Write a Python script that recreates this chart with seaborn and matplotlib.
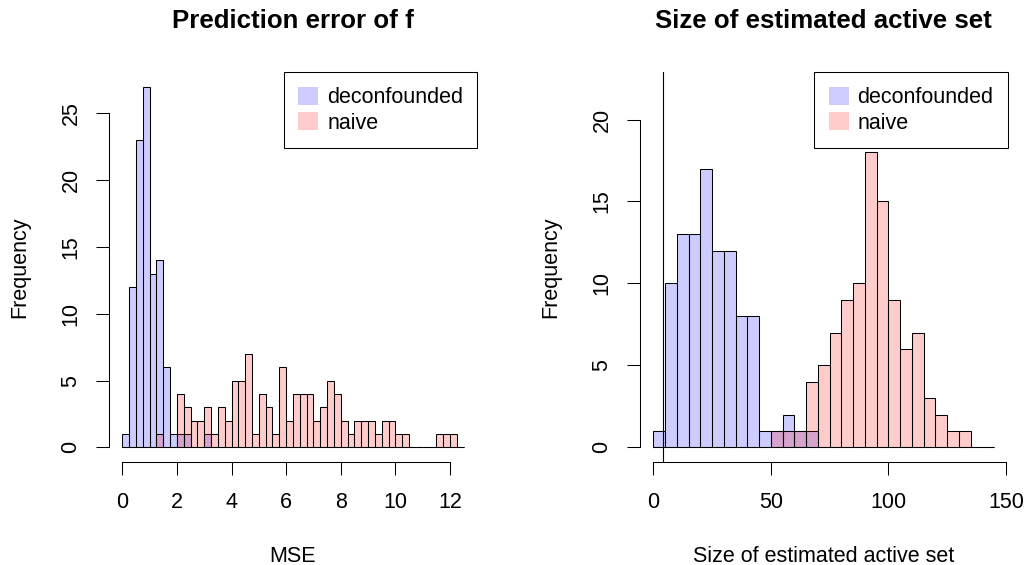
import numpy as np
import pandas as pd
import matplotlib
matplotlib.use("Agg")
import matplotlib.pyplot as plt
from matplotlib.patches import Patch
import seaborn as sns

# ---------------- data ----------------
series_labels = ["deconfounded", "naive"]

# Prediction error (MSE): bins of width 0.25 from 0 to 12.5
mse_break_start, mse_break_stop, mse_break_step = 0.0, 12.5, 0.25
mse_deconfounded = [1, 12, 23, 27, 13, 14, 6, 1, 1, 1,
                    0, 0, 1, 0, 0, 0, 0, 0, 0, 0,
                    0, 0, 0, 0, 0, 0, 0, 0, 0, 0,
                    0, 0, 0, 0, 0, 0, 0, 0, 0, 0,
                    0, 0, 0, 0, 0, 0, 0, 0, 0, 0]
mse_naive = [0, 0, 0, 0, 0, 1, 0, 0, 4, 3,
             2, 2, 3, 1, 3, 2, 5, 5, 7, 1,
             4, 3, 1, 6, 2, 4, 4, 4, 2, 3,
             5, 4, 2, 1, 2, 2, 2, 1, 2, 2,
             1, 1, 0, 0, 0, 0, 1, 1, 1, 0]

# Size of estimated active set: bins of width 5 from 0 to 145
size_break_start, size_break_stop, size_break_step = 0, 145, 5
size_deconfounded = [1, 10, 13, 13, 17, 12, 12, 8, 8, 1,
                     1, 2, 1, 1, 0, 0, 0, 0, 0, 0,
                     0, 0, 0, 0, 0, 0, 0, 0, 0]
size_naive = [0, 0, 0, 0, 0, 0, 0, 0, 0, 0,
              1, 1, 1, 4, 5, 7, 9, 10, 18, 15,
              9, 6, 7, 3, 2, 1, 1, 0, 0]
true_active_size = 4

mse_xticks = [0, 2, 4, 6, 8, 10, 12]
mse_yticks = [0, 5, 10, 15, 20, 25]
size_xticks = [0, 50, 100, 150]
size_yticks = [0, 5, 10, 15, 20]

titles = ["Prediction error of f", "Size of estimated active set"]
xlabels = ["MSE", "Size of estimated active set"]
ylabel = "Frequency"

# ---------------- style ----------------
W, H = 1026, 565
FONT = ["Liberation Sans", "DejaVu Sans"]
BASE = 15.5
plt.rcParams["font.family"] = FONT
plt.rcParams["font.size"] = BASE

blue_face = (0.0, 0.0, 1.0, 0.2)
red_face = (1.0, 0.0, 0.0, 0.2)

fig = plt.figure(figsize=(W / 100, H / 100), dpi=100)


def px_axes(l, t, r, b):
    return [l / W, 1 - b / H, (r - l) / W, (b - t) / H]


ax1 = fig.add_axes(px_axes(108.6, 72.3, 477.3, 461.8))
ax2 = fig.add_axes(px_axes(639.7, 72.3, 1007.8, 461.8))


def draw_hist(ax, start, stop, step, counts, face):
    n_bins = len(counts)
    centers = start + step * (np.arange(n_bins) + 0.5)
    df = pd.DataFrame({"value": centers, "count": np.asarray(counts, dtype=float)})
    n_before = len(ax.patches)
    sns.histplot(data=df, x="value", weights="count", binwidth=step,
                 binrange=(start, stop), ax=ax,
                 color=face[:3], element="bars", fill=True)
    for p in ax.patches[n_before:]:
        p.set_alpha(None)
        p.set_facecolor(face)
        p.set_edgecolor("black")
        p.set_linewidth(0.75)


draw_hist(ax1, mse_break_start, mse_break_stop, mse_break_step, mse_deconfounded, blue_face)
draw_hist(ax1, mse_break_start, mse_break_stop, mse_break_step, mse_naive, red_face)
draw_hist(ax2, size_break_start, size_break_stop, size_break_step, size_deconfounded, blue_face)
draw_hist(ax2, size_break_start, size_break_stop, size_break_step, size_naive, red_face)
ax2.axvline(true_active_size, color="black", lw=0.8)

ax1.set_xlim(-0.5, 13.0)
ax1.set_ylim(-1.08, 28.08)
ax2.set_xlim(-5.8, 150.8)
ax2.set_ylim(-0.88, 22.88)


def style_axes(ax, xticks, yticks):
    ax.set_xlabel("")
    ax.set_ylabel("")
    ax.set_facecolor("none")
    for s in ["top", "right"]:
        ax.spines[s].set_visible(False)
    for s in ["left", "bottom"]:
        ax.spines[s].set_linewidth(0.75)
        ax.spines[s].set_color("black")
    ax.spines["left"].set_bounds(yticks[0], yticks[-1])
    ax.spines["bottom"].set_bounds(xticks[0], xticks[-1])
    ax.set_xticks(xticks)
    ax.set_yticks(yticks)
    ax.set_xticklabels([str(t) for t in xticks])
    ax.set_yticklabels([str(t) for t in yticks])
    ax.tick_params(axis="both", direction="out", length=9.5, width=0.75,
                   colors="black", labelsize=BASE)
    ax.tick_params(axis="x", pad=12.5)
    ax.tick_params(axis="y", pad=10)
    for lbl in ax.get_yticklabels():
        lbl.set_rotation(90)
        lbl.set_va("center")
        lbl.set_ha("right")
    ax.grid(False)


style_axes(ax1, mse_xticks, mse_yticks)
style_axes(ax2, size_xticks, size_yticks)

# legends
handles = [Patch(facecolor=blue_face, edgecolor="none"),
           Patch(facecolor=red_face, edgecolor="none")]
for ax in (ax1, ax2):
    leg = ax.legend(handles, series_labels, loc="upper right",
                    bbox_to_anchor=(1, 1), borderaxespad=0, frameon=True,
                    fancybox=False, framealpha=1, edgecolor="black",
                    fontsize=BASE, handlelength=0.93, handleheight=0.93,
                    handletextpad=0.42, borderpad=0.66, labelspacing=0.19)
    leg.get_frame().set_linewidth(0.75)

# titles and axis labels
for ax, title, xl in [(ax1, titles[0], xlabels[0]), (ax2, titles[1], xlabels[1])]:
    pos = ax.get_position()
    cx = pos.x0 + pos.width / 2
    fig.text(cx, 1 - 28.3 / H, title, ha="center", va="baseline",
             fontsize=18.6, fontweight="bold")
    fig.text(cx, 1 - 562.0 / H, xl, ha="center", va="baseline", fontsize=BASE)
    ylx = pos.x0 - 83.4 / W
    fig.text(ylx, 1 - 267 / H, ylabel, ha="center", va="baseline",
             rotation=90, rotation_mode="anchor", fontsize=BASE)

fig.savefig("out.png", dpi=100)
